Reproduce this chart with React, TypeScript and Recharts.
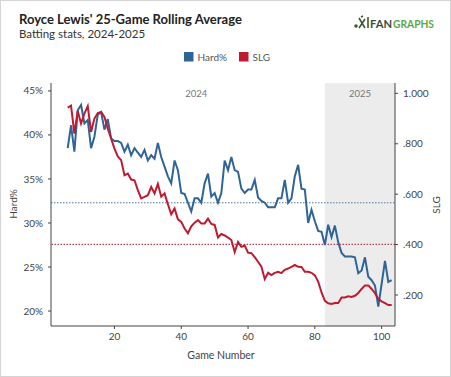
import React from 'react';
import { ComposedChart, Line, XAxis, YAxis, ReferenceLine, ReferenceArea } from 'recharts';

const games = [
  6, 7, 8, 9, 10, 11, 12, 13, 14, 15,
  16, 17, 18, 19, 20, 21, 22, 23, 24, 25,
  26, 27, 28, 29, 30, 31, 32, 33, 34, 35,
  36, 37, 38, 39, 40, 41, 42, 43, 44, 45,
  46, 47, 48, 49, 50, 51, 52, 53, 54, 55,
  56, 57, 58, 59, 60, 61, 62, 63, 64, 65,
  66, 67, 68, 69, 70, 71, 72, 73, 74, 75,
  76, 77, 78, 79, 80, 81, 82, 83, 84, 85,
  86, 87, 88, 89, 90, 91, 92, 93, 94, 95,
  96, 97, 98, 99, 100, 101, 102, 103,
];

const hardPct = [
  38.5, 41.1, 38.1, 42.8, 43.4, 41.3, 41.7, 38.5, 39.8, 42.3,
  42.6, 40.6, 41.8, 39.6, 39.3, 39.3, 39.1, 38.1, 38.9, 37.7,
  38.5, 38.0, 37.5, 38.3, 37.1, 37.7, 37.3, 39.1, 37.5, 36.4,
  35.3, 34.5, 37.1, 36.0, 33.4, 33.3, 32.3, 31.3, 32.8, 32.8,
  32.3, 34.5, 35.6, 33.0, 33.4, 32.3, 33.4, 37.1, 36.0, 37.5,
  36.0, 35.8, 33.9, 33.4, 33.8, 33.8, 34.9, 32.9, 32.5, 32.3,
  31.8, 31.8, 31.8, 32.8, 32.8, 34.9, 32.3, 32.8, 35.3, 36.6,
  33.9, 33.8, 30.0, 31.5, 30.2, 29.1, 29.0, 27.5, 29.8, 28.4,
  29.7, 27.8, 26.6, 26.2, 26.2, 26.2, 26.1, 24.3, 24.6, 26.1,
  23.9, 23.5, 22.9, 20.5, 23.1, 25.7, 23.3, 23.5,
];

const slg = [
  0.943, 0.951, 0.840, 0.930, 0.880, 0.920, 0.949, 0.847, 0.900, 0.922,
  0.926, 0.906, 0.860, 0.821, 0.781, 0.750, 0.735, 0.675, 0.682, 0.658,
  0.655, 0.616, 0.583, 0.589, 0.596, 0.629, 0.603, 0.641, 0.590, 0.603,
  0.560, 0.520, 0.543, 0.500, 0.490, 0.464, 0.445, 0.472, 0.487, 0.497,
  0.484, 0.484, 0.503, 0.482, 0.478, 0.428, 0.442, 0.436, 0.428, 0.418,
  0.370, 0.410, 0.391, 0.396, 0.368, 0.366, 0.350, 0.332, 0.312, 0.263,
  0.288, 0.279, 0.288, 0.292, 0.287, 0.300, 0.305, 0.312, 0.319, 0.312,
  0.311, 0.292, 0.292, 0.288, 0.278, 0.253, 0.210, 0.177, 0.167, 0.164,
  0.168, 0.168, 0.190, 0.190, 0.195, 0.192, 0.197, 0.208, 0.224, 0.238,
  0.238, 0.224, 0.207, 0.185, 0.175, 0.168, 0.160, 0.160,
];

const xTicks = [20, 40, 60, 80, 100];
const hardTicks = [20, 25, 30, 35, 40, 45];
const slgTicks = [0.2, 0.4, 0.6, 0.8, 1.0];

const hardAvg = 32.3;
const slgAvg = 0.401;
const season2024 = [6, 83];
const season2025 = [83, 104];

const BLUE = '#2f6497';
const RED = '#c01a30';
const FONT = 'Lato, "Open Sans", sans-serif';

const fmtSlg = (v: number) => {
  const s = v.toFixed(3);
  return v < 1 ? s.replace(/^0/, '') : s;
};

export default function App() {
  const data = games.map((g, i) => ({ game: g, hard: hardPct[i], slg: slg[i] }));
  const tickStyle = { fontSize: 10, fill: '#444', fontFamily: FONT };
  return (
    <div style={{ position: 'relative', width: 451, height: 377, background: '#fff', fontFamily: FONT, overflow: 'hidden' }}>
      <style>{`body{margin:0}`}</style>
      <ComposedChart width={451} height={377} data={data} margin={{ top: 83, right: 0, bottom: 0, left: 0 }}>
        <ReferenceArea
          yAxisId="left"
          x1={season2025[0]}
          x2={season2025[1]}
          fill="#ececec"
          fillOpacity={1}
          stroke="none"
          ifOverflow="hidden"
          label={{ value: '2025', position: 'insideTop', offset: 7, fill: '#777', fontSize: 9.5, fontFamily: FONT }}
        />
        <ReferenceArea
          yAxisId="left"
          x1={season2024[0]}
          x2={season2024[1]}
          fill="#ffffff"
          fillOpacity={0}
          stroke="none"
          ifOverflow="hidden"
          label={{ value: '2024', position: 'insideTop', offset: 7, fill: '#777', fontSize: 9.5, fontFamily: FONT }}
        />
        <XAxis
          dataKey="game"
          type="number"
          domain={[1, 104]}
          ticks={xTicks}
          allowDataOverflow
          height={51}
          tickSize={3}
          tickMargin={4}
          axisLine={{ stroke: '#444' }}
          tickLine={{ stroke: '#444' }}
          tick={tickStyle}
        />
        <YAxis
          yAxisId="left"
          orientation="left"
          width={51}
          type="number"
          domain={[18.3, 45.9]}
          ticks={hardTicks}
          allowDataOverflow
          tickFormatter={(v: number) => `${v}%`}
          tickSize={3}
          tickMargin={5}
          axisLine={{ stroke: '#444' }}
          tickLine={{ stroke: '#444' }}
          tick={tickStyle}
        />
        <YAxis
          yAxisId="right"
          orientation="right"
          width={56}
          type="number"
          domain={[0.077, 1.041]}
          ticks={slgTicks}
          allowDataOverflow
          tickFormatter={fmtSlg}
          tickSize={3}
          tickMargin={5}
          axisLine={{ stroke: '#444' }}
          tickLine={{ stroke: '#444' }}
          tick={tickStyle}
        />
        <ReferenceLine yAxisId="left" y={hardAvg} stroke="#56789c" strokeDasharray="1.5 1.5" strokeWidth={1.2} />
        <ReferenceLine yAxisId="right" y={slgAvg} stroke="#b5404f" strokeDasharray="1.5 1.5" strokeWidth={1.2} />
        <Line yAxisId="left" type="linear" dataKey="hard" stroke={BLUE} strokeWidth={2} dot={false} activeDot={false} isAnimationActive={false} />
        <Line yAxisId="right" type="linear" dataKey="slg" stroke={RED} strokeWidth={2} dot={false} activeDot={false} isAnimationActive={false} />
      </ComposedChart>
      <svg width={451} height={377} style={{ position: 'absolute', left: 0, top: 0, pointerEvents: 'none' }} fontFamily={FONT}>
        <text x={19} y={24} fontSize={13} fontWeight={700} fill="#222">Royce Lewis' 25-Game Rolling Average</text>
        <text x={19} y={37.5} fontSize={11.5} fill="#333">Batting stats, 2024-2025</text>
        <rect x={184} y={52} width={9.5} height={9.5} fill={BLUE} />
        <text x={197.5} y={60.5} fontSize={10} fill="#555">Hard%</text>
        <rect x={239} y={52} width={9.5} height={9.5} fill={RED} />
        <text x={252.5} y={60.5} fontSize={10} fill="#555">SLG</text>
        <text transform="translate(17,204) rotate(-90)" textAnchor="middle" fontSize={10} fill="#444">Hard%</text>
        <text transform="translate(440,205) rotate(-90)" textAnchor="middle" fontSize={10} fill="#444">SLG</text>
        <text x={221} y={359} textAnchor="middle" fontSize={10.5} fill="#444">Game Number</text>
        <g stroke="#3d5a30" strokeWidth={1.6} fill="none">
          <circle cx={356} cy={26} r={1} fill="#3d5a30" />
          <path d="M359 18 L365 28 M365 19 L359 28 M361 17 L363 16" />
          <path d="M368 17 L368 28" />
        </g>
        <text x={370} y={27.5} fontSize={12} fontWeight={700} fill="#3e4b38" textLength={22} lengthAdjust="spacingAndGlyphs">FAN</text>
        <text x={393} y={27.5} fontSize={12} fontWeight={700} fill="#5aa946" textLength={41} lengthAdjust="spacingAndGlyphs">GRAPHS</text>
      </svg>
      <div style={{ position: 'absolute', left: 0, top: 0, width: 451, height: 377, boxSizing: 'border-box', border: '1px solid #d4d4d4', pointerEvents: 'none' }} />
    </div>
  );
}
